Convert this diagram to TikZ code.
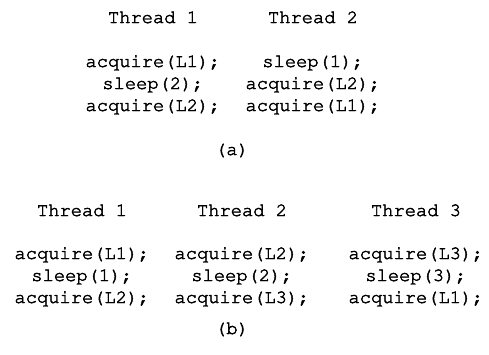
\documentclass[tikz,border=0pt]{standalone}
\usepackage[T1]{fontenc}
\usepackage{courier}
\usepackage{tikz}
\usetikzlibrary{positioning}

% slightly heavier strokes for the typewriter text
\newcommand{\heavytt}[1]{\special{pdf:literal direct 2 Tr 0.45 w}#1\special{pdf:literal direct 0 Tr}}

\begin{document}
\begin{tikzpicture}[
    x=1pt, y=-1pt,
    code/.style={anchor=base, inner sep=0pt, font=\ttfamily\fontsize{18.75}{22}\selectfont},
    head/.style={code},
    subcap/.style={code},
]
    \useasboundingbox (0,0) rectangle (489,354);

    % (a) two threads
    \node[head] (a1) at (153,23) {\heavytt{Thread 1}};
    \node[head] (a2) at (313,23) {\heavytt{Thread 2}};

    \node[code] (a1r1) at (153,67) {\heavytt{acquire(L1);}};
    \node[code] (a1r2) at (153,89) {\heavytt{sleep(2);}};
    \node[code] (a1r3) at (153,111) {\heavytt{acquire(L2);}};

    \node[code] (a2r1) at (313,67) {\heavytt{sleep(1);}};
    \node[code] (a2r2) at (313,89) {\heavytt{acquire(L2);}};
    \node[code] (a2r3) at (313,111) {\heavytt{acquire(L1);}};

    \node[subcap] (capa) at (232,155) {\heavytt{(a)}};

    % (b) three threads
    \node[head] (b1) at (82,216) {\heavytt{Thread 1}};
    \node[head] (b2) at (242,216) {\heavytt{Thread 2}};
    \node[head] (b3) at (416,216) {\heavytt{Thread 3}};

    \node[code] (b1r1) at (82,259) {\heavytt{acquire(L1);}};
    \node[code] (b1r2) at (82,281) {\heavytt{sleep(1);}};
    \node[code] (b1r3) at (82,303) {\heavytt{acquire(L2);}};

    \node[code] (b2r1) at (242,259) {\heavytt{acquire(L2);}};
    \node[code] (b2r2) at (242,281) {\heavytt{sleep(2);}};
    \node[code] (b2r3) at (242,303) {\heavytt{acquire(L3);}};

    \node[code] (b3r1) at (416,259) {\heavytt{acquire(L3);}};
    \node[code] (b3r2) at (416,281) {\heavytt{sleep(3);}};
    \node[code] (b3r3) at (416,303) {\heavytt{acquire(L1);}};

    \node[subcap] (capb) at (232,334) {\heavytt{(b)}};
\end{tikzpicture}
\end{document}
